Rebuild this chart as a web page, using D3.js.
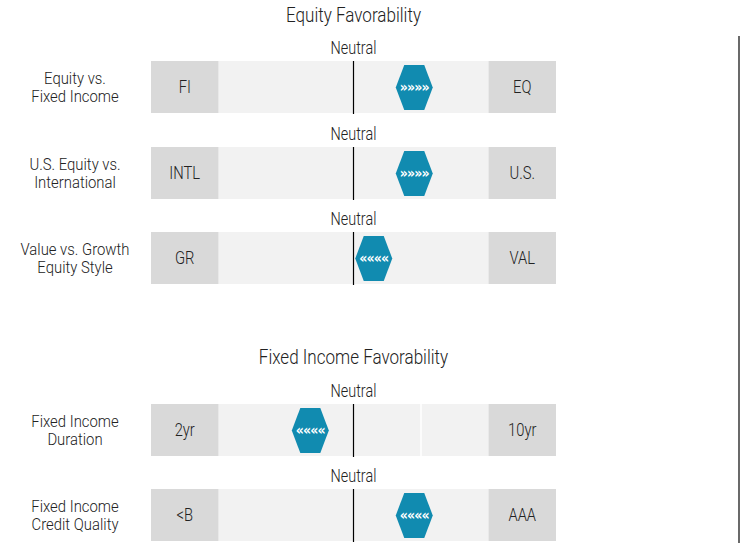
<!DOCTYPE html>
<html><head><meta charset="utf-8">
<script src="https://cdn.jsdelivr.net/npm/d3@7"></script>
<style>
html,body{margin:0;padding:0;background:#fff;}
text{font-family:"Roboto","Liberation Sans",sans-serif;font-weight:300;fill:#222;}
</style></head>
<body>
<svg id="chart" width="741" height="551"></svg>
<script>
const sectionTitles = ["Equity Favorability", "Fixed Income Favorability"];
const categories = [
  ["Equity vs.", "Fixed Income"],
  ["U.S. Equity vs.", "International"],
  ["Value vs. Growth", "Equity Style"],
  ["Fixed Income", "Duration"],
  ["Fixed Income", "Credit Quality"]
];
const leftLabels = ["FI", "INTL", "GR", "2yr", "<B"];
const rightLabels = ["EQ", "U.S.", "VAL", "10yr", "AAA"];
const values = [0.9, 0.9, 0.3, -0.64, 0.9];
const arrows = ["»»»»", "»»»»", "««««", "««««", "««««"];
const dividers = [[], [], [], [1], []];
const neutralLabel = "Neutral";

const K = 0.82; // condensed text
const svg = d3.select("#chart");
const x = d3.scaleLinear().domain([-3, 3]).range([151, 556]);
const rowTop = [61, 147, 232, 404, 489];
const barH = 52;
const titleY = [15, 357];

function ctext(sel, tx, ty, size, k) {
  return sel.append("text")
    .attr("transform", (d, i) => `translate(${typeof tx === "function" ? tx(d, i) : tx},${typeof ty === "function" ? ty(d, i) : ty}) scale(${k || K},1)`)
    .attr("text-anchor", "middle").attr("dominant-baseline", "central")
    .style("font-size", size + "px");
}

const titles = svg.selectAll("g.section").data(sectionTitles).join("g").attr("class", "section");
ctext(titles, x(0), (d, i) => titleY[i], 20.8).text(d => d);

const rows = svg.selectAll("g.row").data(values).join("g")
  .attr("class", "row")
  .attr("transform", (d, i) => `translate(0,${rowTop[i]})`);

rows.append("rect").attr("x", x(-2)).attr("width", x(2) - x(-2))
  .attr("y", 0).attr("height", barH).attr("fill", "#f2f2f2");
rows.append("rect").attr("x", x(-3)).attr("width", x(-2) - x(-3))
  .attr("y", 0).attr("height", barH).attr("fill", "#d9d9d9");
rows.append("rect").attr("x", x(2)).attr("width", x(3) - x(2))
  .attr("y", 0).attr("height", barH).attr("fill", "#d9d9d9");

rows.each(function (d, i) {
  d3.select(this).selectAll("line.div").data(dividers[i]).join("line")
    .attr("class", "div")
    .attr("x1", v => x(v)).attr("x2", v => x(v))
    .attr("y1", 0).attr("y2", barH)
    .attr("stroke", "#fff").attr("stroke-width", 1.5);
});

rows.append("line").attr("x1", x(0)).attr("x2", x(0))
  .attr("y1", 0).attr("y2", barH + 1)
  .attr("stroke", "#000").attr("stroke-width", 1.2);

ctext(rows, x(0), -13, 17.6).text(neutralLabel);
ctext(rows, (x(-3) + x(-2)) / 2, barH / 2, 18).text((d, i) => leftLabels[i]);
ctext(rows, (x(2) + x(3)) / 2, barH / 2, 18).text((d, i) => rightLabels[i]);

rows.each(function (d, i) {
  const g = d3.select(this);
  categories[i].forEach((t, j) => {
    g.append("text")
      .attr("transform", `translate(75,${barH / 2 - 9.25 + j * 18.5}) scale(0.86,1)`)
      .attr("text-anchor", "middle").attr("dominant-baseline", "central")
      .style("font-size", "17.3px").text(t);
  });
});

const hw = 18.5, hf = 10, hh = 22.5;
const hex = [[-hw, 0], [-hf, -hh], [hf, -hh], [hw, 0], [hf, hh], [-hf, hh]];
const marker = rows.append("g")
  .attr("transform", d => `translate(${x(d)},${barH / 2 + 0.5})`);
marker.append("path")
  .attr("d", d3.line()(hex) + "Z")
  .attr("fill", "#118bb0");
marker.append("text").attr("x", 0).attr("y", 0)
  .attr("text-anchor", "middle").attr("dominant-baseline", "central")
  .attr("transform", "scale(0.9,1)")
  .style("font-size", "14px").style("font-weight", "900")
  .style("fill", "#fff").style("font-family", "DejaVu Sans, sans-serif")
  .style("letter-spacing", "-1px")
  .text((d, i) => arrows[i]);

svg.append("line").attr("x1", 739).attr("x2", 739)
  .attr("y1", 36).attr("y2", 543)
  .attr("stroke", "#444").attr("stroke-width", 1.6);
</script>
</body></html>
